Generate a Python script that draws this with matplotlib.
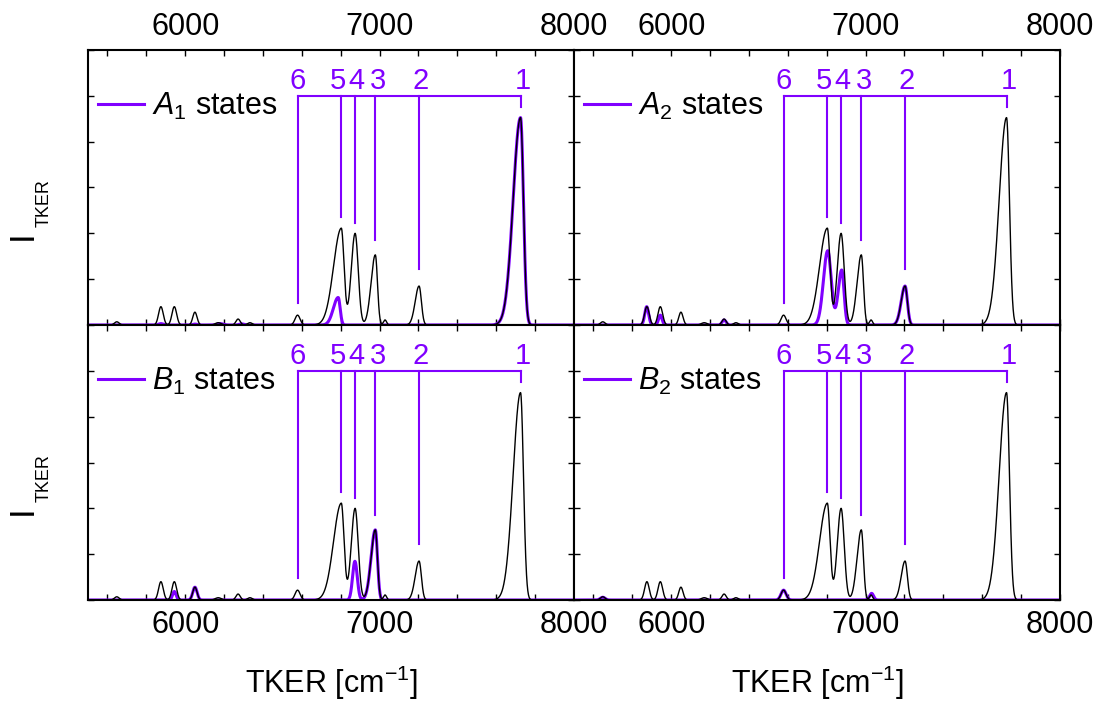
import numpy as np
import matplotlib
matplotlib.use('Agg')
import matplotlib.pyplot as plt
from matplotlib.ticker import MultipleLocator

plt.rcParams['font.family'] = ['Liberation Sans', 'DejaVu Sans']
plt.rcParams['mathtext.fontset'] = 'custom'
plt.rcParams['mathtext.rm'] = 'Liberation Sans'
plt.rcParams['mathtext.it'] = 'Liberation Sans:italic'

purple = '#8000ff'

# total spectrum (black): peak position, height, left / right width
total_pos = [5648, 5875, 5944, 6050, 6170, 6272, 6333, 6578, 6803, 6874, 6978, 7028, 7203, 7725]
total_hgt = [0.014, 0.080, 0.080, 0.056, 0.010, 0.026, 0.010, 0.043, 0.422, 0.400, 0.306, 0.022, 0.170, 0.905]
total_wl = [12, 12, 12, 11, 15, 11, 12, 13, 40, 20, 22, 8, 20, 38]
total_wr = [12, 12, 12, 11, 15, 11, 12, 13, 14, 16, 11, 8, 12, 15]

# symmetry resolved contributions (purple)
a1_pos = [5875, 6050, 6180, 6290, 6787, 7725]
a1_hgt = [0.006, 0.004, 0.006, 0.005, 0.120, 0.905]
a1_wl = [12, 11, 15, 12, 25, 38]
a1_wr = [12, 11, 15, 12, 10, 15]

a2_pos = [5874, 5944, 6272, 6805, 6877, 7203]
a2_hgt = [0.080, 0.043, 0.022, 0.324, 0.240, 0.170]
a2_wl = [10, 9, 10, 22, 18, 20]
a2_wr = [10, 9, 10, 18, 12, 12]

b1_pos = [5944, 6050, 6873, 6978]
b1_hgt = [0.037, 0.056, 0.169, 0.306]
b1_wl = [9, 11, 12, 22]
b1_wr = [9, 11, 12, 11]

b2_pos = [5648, 6578, 7031]
b2_hgt = [0.012, 0.043, 0.029]
b2_wl = [12, 13, 10]
b2_wr = [12, 13, 10]

# assignment bracket
bracket_pos = [6578, 6803, 6874, 6978, 7203, 7725]
bracket_num = ['6', '5', '4', '3', '2', '1']
bracket_lab = [6577, 6788, 6882, 6994, 7211, 7736]
bracket_end = [0.095, 0.47, 0.445, 0.37, 0.245, 0.95]
bracket_top = 1.0

panel_sym = ['A', 'A', 'B', 'B']
panel_sub = ['1', '2', '1', '2']
panel_data = [(a1_pos, a1_hgt, a1_wl, a1_wr), (a2_pos, a2_hgt, a2_wl, a2_wr),
              (b1_pos, b1_hgt, b1_wl, b1_wr), (b2_pos, b2_hgt, b2_wl, b2_wr)]


def spectrum(x, pos, hgt, wl, wr):
    y = np.zeros_like(x)
    for p, h, a, b in zip(pos, hgt, wl, wr):
        s = np.where(x < p, a, b)
        y += h * np.exp(-0.5 * ((x - p) / s) ** 2)
    return y


x = np.linspace(5500, 8000, 3000)
total = spectrum(x, total_pos, total_hgt, total_wl, total_wr)

fig = plt.figure(figsize=(11.03, 7.03), dpi=100)
W, H = 1103.0, 703.0
x0, x1, x2 = 88, 574, 1060
yt, ym, yb = 50, 325, 600
rects = [[x0/W, 1-ym/H, (x1-x0)/W, (ym-yt)/H], [x1/W, 1-ym/H, (x2-x1)/W, (ym-yt)/H],
         [x0/W, 1-yb/H, (x1-x0)/W, (yb-ym)/H], [x1/W, 1-yb/H, (x2-x1)/W, (yb-ym)/H]]

for i, r in enumerate(rects):
    ax = fig.add_axes(r)
    pos, hgt, wl, wr = panel_data[i]
    lab = r'$\mathit{%s}_{\mathregular{%s}}$ states' % (panel_sym[i], panel_sub[i])
    ax.plot(x, spectrum(x, pos, hgt, wl, wr), color=purple, lw=2.2, label=lab)
    ax.plot(x, total, color='black', lw=1.0)

    # bracket with state numbers
    ax.plot([bracket_pos[0], bracket_pos[-1]], [bracket_top, bracket_top], color=purple, lw=1.5)
    for p, n, lp, e in zip(bracket_pos, bracket_num, bracket_lab, bracket_end):
        ax.plot([p, p], [bracket_top, e], color=purple, lw=1.5)
        ax.text(lp, 1.03, n, color=purple, fontsize=21, ha='center', va='baseline')

    ax.set_xlim(5500, 8000)
    ax.set_ylim(0, 1.2)
    ax.xaxis.set_major_locator(MultipleLocator(1000))
    ax.xaxis.set_minor_locator(MultipleLocator(200))
    ax.yaxis.set_major_locator(MultipleLocator(0.2))
    ax.tick_params(which='both', direction='in', top=True, right=True, length=4, width=1,
                   labelsize=22, pad=7)
    ax.tick_params(axis='y', labelleft=False)
    if i < 2:
        ax.tick_params(axis='x', labelbottom=False, labeltop=True, pad=6)
    else:
        ax.set_xlabel(r'TKER [cm$^{\mathregular{-1}}$]', fontsize=22, labelpad=17)
    for s in ax.spines.values():
        s.set_linewidth(1.5)

    ax.legend(loc='upper left', bbox_to_anchor=(-0.029, 0.94), frameon=False,
              fontsize=22, handlelength=1.5, handletextpad=0.25, borderaxespad=0.4)

# y labels
for yc in [235, 510]:
    fig.text(22/W, 1-yc/H, 'I', rotation=90, fontsize=25, ha='center', va='center')
    fig.text(44/W, 1-(yc-32)/H, 'TKER', rotation=90, fontsize=13, ha='center', va='center')

fig.savefig('out.png', dpi=100)
